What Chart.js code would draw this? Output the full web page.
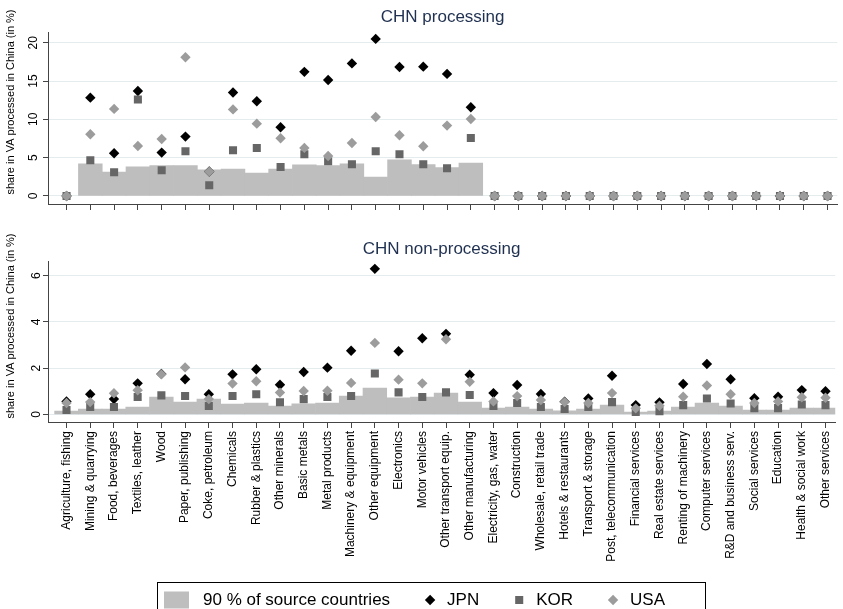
<!DOCTYPE html>
<html lang="en">
<head>
<meta charset="UTF-8">
<script src="https://cdn.jsdelivr.net/npm/chart.js@4.4.1/dist/chart.umd.min.js"></script>
<style>
  body { margin: 0; background: #fff; overflow: hidden; }
  #wrap { position: relative; width: 843px; height: 609px; overflow: hidden; }
  canvas { position: absolute; left: 0; }
</style>
</head>
<body>
<div id="wrap">
  <canvas id="proc" width="843" height="230" style="top:0"></canvas>
  <canvas id="nonproc" width="843" height="388" style="top:230px"></canvas>
</div>
<script>
var sectors = ['Agriculture, fishing', 'Mining & quarrying', 'Food, beverages', 'Textiles, leather', 'Wood',
    'Paper, publishing', 'Coke, petroleum', 'Chemicals', 'Rubber & plastics', 'Other minerals', 'Basic metals',
    'Metal products', 'Machinery & equipment', 'Other equipment', 'Electronics', 'Motor vehicles',
    'Other transport equip.', 'Other manufacturing', 'Electricity, gas, water', 'Construction',
    'Wholesale, retail trade', 'Hotels & restaurants', 'Transport & storage', 'Post, telecommunication',
    'Financial services', 'Real estate services', 'Renting of machinery', 'Computer services',
    'R&D and business serv.', 'Social services', 'Education', 'Health & social work', 'Other services'];

// CHN processing (in %)
var procBand = [0, 4.18, 3.13, 3.79, 3.96, 3.96, 3.4, 3.52, 3.0, 3.5, 4.07, 3.96, 4.2, 2.48, 4.7, 4.09, 3.7, 4.3,
    0, 0, 0, 0, 0, 0, 0, 0, 0, 0, 0, 0, 0, 0, 0];
var procJPN = [0, 12.83, 5.57, 13.7, 5.66, 7.75, 3.2, 13.5, 12.36, 8.97, 16.2, 15.14, 17.3, 20.5, 16.84, 16.88, 15.93, 11.58,
    0, 0, 0, 0, 0, 0, 0, 0, 0, 0, 0, 0, 0, 0, 0];
var procKOR = [0, 4.66, 3.09, 12.6, 3.35, 5.83, 1.39, 5.96, 6.27, 3.79, 5.44, 4.53, 4.13, 5.83, 5.44, 4.13, 3.61, 7.57,
    0, 0, 0, 0, 0, 0, 0, 0, 0, 0, 0, 0, 0, 0, 0];
var procUSA = [0, 8.05, 11.36, 6.53, 7.44, 18.1, 3.18, 11.3, 9.44, 7.53, 6.27, 5.22, 6.92, 10.3, 7.92, 6.48, 9.18, 10.05,
    0, 0, 0, 0, 0, 0, 0, 0, 0, 0, 0, 0, 0, 0, 0];

// CHN non-processing (in %)
var nonBand = [0.14, 0.23, 0.23, 0.32, 0.75, 0.53, 0.66, 0.45, 0.49, 0.36, 0.46, 0.49, 0.79, 1.14, 0.71, 0.75, 0.92,
    0.53, 0.27, 0.32, 0.23, 0.15, 0.23, 0.4, 0.1, 0.14, 0.32, 0.49, 0.36, 0.19, 0.19, 0.27, 0.27];
var nonJPN = [0.56, 0.87, 0.66, 1.34, 1.75, 1.52, 0.87, 1.73, 1.95, 1.28, 1.83, 2.02, 2.75, 6.29, 2.73, 3.29, 3.48,
    1.71, 0.92, 1.27, 0.88, 0.55, 0.69, 1.67, 0.4, 0.52, 1.31, 2.18, 1.52, 0.7, 0.76, 1.05, 1.0];
var nonKOR = [0.19, 0.32, 0.32, 0.75, 0.82, 0.79, 0.36, 0.79, 0.87, 0.52, 0.66, 0.75, 0.79, 1.77, 0.95, 0.75, 0.95,
    0.84, 0.36, 0.49, 0.32, 0.23, 0.32, 0.53, 0.1, 0.14, 0.4, 0.69, 0.47, 0.27, 0.27, 0.43, 0.4];
var nonUSA = [0.49, 0.53, 0.91, 1.04, 1.73, 2.03, 0.66, 1.33, 1.43, 0.94, 1.01, 1.02, 1.36, 3.09, 1.5, 1.34, 3.25,
    1.41, 0.56, 0.79, 0.62, 0.53, 0.49, 0.92, 0.26, 0.37, 0.76, 1.25, 0.87, 0.49, 0.56, 0.74, 0.72];

var procTicks = [0, 5, 10, 15, 20];
var nonTicks = [0, 2, 4, 6];

Chart.defaults.font.family = '"Liberation Sans", Arial, Helvetica, sans-serif';
Chart.defaults.color = '#000';
Chart.defaults.animation = false;

function points(values) {
    return values.map(function (v, i) { return {x: i, y: v}; });
}
function bandPoints(values) {
    // no band drawn where the share is zero
    return values.map(function (v, i) { return {x: i, y: v > 0 ? v : null}; });
}

// y title centred on the whole panel (subtitle included), like stata does
var yTitle = {
    id: 'yTitle',
    afterDraw: function (chart, args, opts) {
        var ctx = chart.ctx;
        ctx.save();
        ctx.font = '11px ' + Chart.defaults.font.family;
        ctx.fillStyle = '#000';
        ctx.textAlign = 'center';
        ctx.textBaseline = 'middle';
        ctx.translate(opts.x, chart.chartArea.bottom / 2);
        ctx.rotate(-Math.PI / 2);
        ctx.fillText(opts.text, 0, 0);
        ctx.restore();
    }
};

function marker(ctx, style, r, x, y) {
    ctx.beginPath();
    if (style === 'rect') {
        var s = r * Math.SQRT1_2;
        ctx.rect(x - s, y - s, 2 * s, 2 * s);
    } else {
        ctx.moveTo(x - r, y);
        ctx.lineTo(x, y - r);
        ctx.lineTo(x + r, y);
        ctx.lineTo(x, y + r);
        ctx.closePath();
    }
    ctx.fill();
}

// boxed legend under the lower panel
var boxLegend = {
    id: 'boxLegend',
    afterDraw: function (chart, args, opts) {
        var ctx = chart.ctx;
        ctx.save();
        ctx.strokeStyle = '#000';
        ctx.lineWidth = 1;
        ctx.strokeRect(opts.left + 0.5, opts.top + 0.5, opts.width, opts.height);
        ctx.font = opts.fontSize + 'px ' + Chart.defaults.font.family;
        ctx.textBaseline = 'middle';
        ctx.textAlign = 'left';
        var x = opts.left + opts.inset;
        var cy = opts.top + opts.rowOffset;
        chart.data.datasets.forEach(function (ds, i) {
            if (i > 0) x += opts.itemGap;
            ctx.fillStyle = ds.backgroundColor;
            if (ds.type === 'bar') {
                ctx.fillRect(x, cy - 8.5, 25, 17);
                x += 25 + 14;
            } else {
                marker(ctx, ds.pointStyle, ds.pointRadius, x + 6, cy);
                x += 12 + 11;
            }
            ctx.fillStyle = '#000';
            ctx.fillText(ds.label, x, cy);
            x += ctx.measureText(ds.label).width;
        });
        ctx.restore();
    }
};

function panel(id, title, band, jpn, kor, usa, yTicks, yMin, yMax, lower) {
    var ctx = document.getElementById(id).getContext('2d');
    return new Chart(ctx, {
        type: 'bar',
        data: {
            datasets: [
                {type: 'bar', label: '90 % of source countries', data: bandPoints(band), backgroundColor: '#bebebe',
                    borderWidth: 0, barPercentage: 1, categoryPercentage: 1, order: 4},
                {type: 'scatter', label: 'JPN', data: points(jpn), pointStyle: 'rectRot', pointRadius: 5.2,
                    backgroundColor: '#000', borderWidth: 0, order: 3},
                {type: 'scatter', label: 'KOR', data: points(kor), pointStyle: 'rect', pointRadius: 5.7,
                    backgroundColor: '#666666', borderWidth: 0, order: 2},
                {type: 'scatter', label: 'USA', data: points(usa), pointStyle: 'rectRot', pointRadius: 5.2,
                    backgroundColor: '#9c9c9c', borderWidth: 0, order: 1}
            ]
        },
        options: {
            responsive: false,
            events: [],
            layout: {padding: {left: 0, right: 0, top: 0, bottom: lower ? 51 : 0}},
            plugins: {
                legend: {display: false},
                tooltip: {enabled: false},
                title: {
                    display: true, text: title, color: '#1f3050', fullSize: false,
                    font: {size: 17, weight: 'normal'},
                    padding: lower ? {top: 8.8, bottom: 2.5} : {top: 6.8, bottom: 4.8}
                },
                yTitle: {x: 11, text: 'share in VA processed in China (in %)'},
                boxLegend: {left: 157, top: 352, width: 548, height: 40, inset: 7, rowOffset: 18,
                    itemGap: 34, fontSize: 17}
            },
            scales: {
                x: {
                    type: 'linear', min: -0.78, max: 32.41, offset: false,
                    afterBuildTicks: function (s) { s.ticks = sectors.map(function (c, i) { return {value: i}; }); },
                    afterFit: function (s) { s.height = lower ? 145 : 26; },
                    border: {display: true, color: '#444'},
                    grid: {drawOnChartArea: false, offset: false, tickColor: '#444', tickLength: 6},
                    ticks: {
                        display: lower, autoSkip: false, minRotation: 90, maxRotation: 90, padding: 3,
                        font: {size: 12},
                        callback: function (v) { return sectors[v]; }
                    }
                },
                y: {
                    type: 'linear', min: yMin, max: yMax,
                    afterBuildTicks: function (s) { s.ticks = yTicks.map(function (v) { return {value: v}; }); },
                    afterFit: function (s) { s.width = 48; },
                    border: {display: true, color: '#444'},
                    grid: {color: '#e4ecee', tickColor: '#444', tickLength: 5},
                    ticks: {minRotation: 90, maxRotation: 90, crossAlign: 'center', padding: 3, font: {size: 12}}
                }
            }
        },
        plugins: lower ? [yTitle, boxLegend] : [yTitle]
    });
}

panel('proc', 'CHN processing', procBand, procJPN, procKOR, procUSA, procTicks, -1.05, 21.4, false);
panel('nonproc', 'CHN non-processing', nonBand, nonJPN, nonKOR, nonUSA, nonTicks, -0.33, 6.6, true);
</script>
</body>
</html>
